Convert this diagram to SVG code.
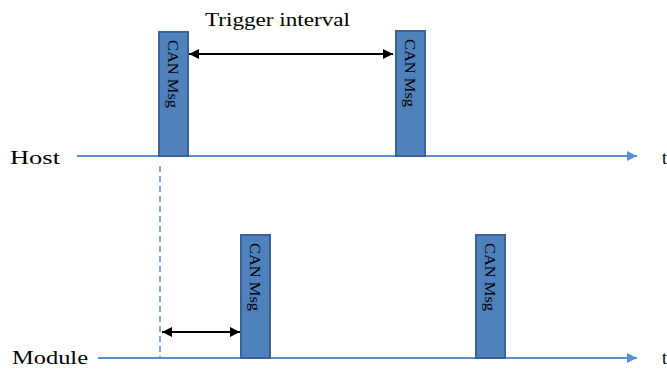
<svg xmlns="http://www.w3.org/2000/svg" width="667" height="372" viewBox="0 0 667 372">
<style>
.msg{fill:#4f81bd;stroke:#3a6294;stroke-width:2}
.mt{font-family:"Liberation Serif",serif;font-size:15px;fill:#000}
.lbl{font-family:"Liberation Serif",serif;font-size:18px;fill:#000}
.axis{stroke:#5b8fd0;stroke-width:2;fill:none}
.blk{stroke:#000;stroke-width:2;fill:none}
</style>
<defs>
<marker id="ax" viewBox="0 0 10 10" refX="10" refY="5" markerWidth="5" markerHeight="5" orient="auto" markerUnits="strokeWidth"><path d="M0,0L10,5L0,10z" fill="#5b8fd0"/></marker>
<marker id="ah" viewBox="0 0 10 10" refX="10" refY="5" markerWidth="5" markerHeight="5" orient="auto-start-reverse" markerUnits="strokeWidth"><path d="M0,0L10,5L0,10z" fill="#000"/></marker>
</defs>
<g id="connectors">
<line class="axis" x1="77" y1="156" x2="637" y2="156" marker-end="url(#ax)"/>
<line class="axis" x1="98" y1="358" x2="637" y2="358" marker-end="url(#ax)"/>
<line x1="160" y1="166" x2="160" y2="358" stroke="#5b8fd0" stroke-width="1.5" stroke-dasharray="6,4"/>
<line class="blk" x1="189" y1="54" x2="393" y2="54" marker-start="url(#ah)" marker-end="url(#ah)"/>
<line class="blk" x1="162" y1="332" x2="240" y2="332" marker-start="url(#ah)" marker-end="url(#ah)"/>
</g>
<g id="host-label"><text class="lbl" x="10" y="164" textLength="50" lengthAdjust="spacingAndGlyphs">Host</text></g>
<g id="module-label"><text class="lbl" x="12" y="364" textLength="76" lengthAdjust="spacingAndGlyphs">Module</text></g>
<g id="trigger-label"><text class="lbl" x="205" y="26" textLength="145" lengthAdjust="spacingAndGlyphs">Trigger interval</text></g>
<g id="t-host"><text class="lbl" x="662" y="164">t</text></g>
<g id="t-module"><text class="lbl" x="662" y="364">t</text></g>
<g id="host-msg1"><rect class="msg" x="159" y="32" width="29" height="124"/><text class="mt" transform="translate(168,40) rotate(90)" textLength="68" lengthAdjust="spacingAndGlyphs">CAN Msg</text></g>
<g id="host-msg2"><rect class="msg" x="396" y="31" width="29" height="125"/><text class="mt" transform="translate(405,39) rotate(90)" textLength="68" lengthAdjust="spacingAndGlyphs">CAN Msg</text></g>
<g id="module-msg1"><rect class="msg" x="241" y="235" width="29" height="123"/><text class="mt" transform="translate(250,243) rotate(90)" textLength="68" lengthAdjust="spacingAndGlyphs">CAN Msg</text></g>
<g id="module-msg2"><rect class="msg" x="476" y="235" width="29" height="123"/><text class="mt" transform="translate(485,243) rotate(90)" textLength="68" lengthAdjust="spacingAndGlyphs">CAN Msg</text></g>
</svg>
